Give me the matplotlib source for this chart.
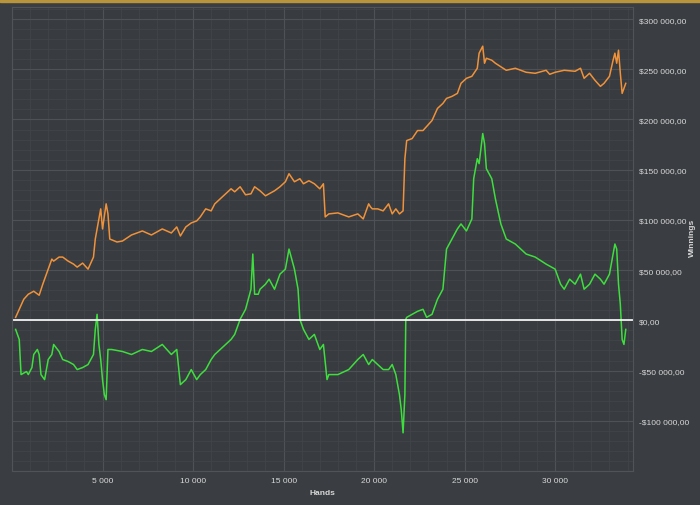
import matplotlib.pyplot as plt
from matplotlib.ticker import FuncFormatter, MultipleLocator

plt.rcParams['font.family'] = ['Liberation Sans', 'DejaVu Sans']

# hands (thousands) / winnings ($ thousands)
orange_x = [0.2,0.4,0.65,0.9,1.2,1.5,1.7,2.0,2.2,2.3,2.6,2.8,3.1,3.4,3.6,3.9,4.2,4.5,4.6,4.7,4.9,5.0,5.2,5.3,5.4,5.8,6.1,6.6,7.2,7.7,8.3,8.8,9.1,9.3,9.6,9.9,10.2,10.4,10.7,11.0,11.2,11.5,11.8,12.1,12.3,12.6,12.9,13.2,13.4,13.7,14.0,14.2,14.5,14.8,15.1,15.3,15.6,15.9,16.1,16.4,16.7,17.0,17.2,17.3,17.5,18.0,18.6,19.1,19.4,19.7,19.8,19.9,20.2,20.5,20.8,21.0,21.2,21.4,21.6,21.7,21.8,22.1,22.4,22.7,22.9,23.2,23.5,23.8,24.0,24.3,24.6,24.8,25.1,25.4,25.7,25.8,26.0,26.1,26.2,26.5,26.7,27.3,27.8,28.4,28.9,29.5,29.7,30.0,30.5,31.1,31.4,31.6,31.9,32.2,32.5,32.7,33.0,33.2,33.3,33.4,33.5,33.6,33.7,33.8,33.9]
orange_y = [3,11,21,26,29,25,36,51,61,59,63,63,59,56,53,57,51,63,81,91,111,91,116,106,81,78,79,85,89,85,91,87,93,84,93,97,99,103,111,109,116,121,126,131,128,133,125,126,133,129,124,126,129,133,138,146,138,141,136,139,136,131,136,103,106,107,103,106,101,116,113,111,111,109,116,106,111,106,109,161,179,181,189,189,193,199,211,216,221,223,226,236,241,243,251,266,273,256,261,259,256,249,251,247,246,249,245,247,249,248,251,241,246,239,233,236,243,259,266,256,269,246,226,231,236]

green_x = [0.2,0.4,0.5,0.8,0.9,1.1,1.2,1.4,1.5,1.6,1.8,2.0,2.2,2.3,2.6,2.8,3.1,3.4,3.6,3.9,4.2,4.5,4.6,4.7,4.8,4.9,5.0,5.1,5.2,5.3,5.5,6.1,6.6,7.2,7.7,8.3,8.8,9.1,9.3,9.6,9.9,10.2,10.4,10.7,11.0,11.2,11.5,11.8,12.1,12.3,12.6,12.9,13.2,13.3,13.4,13.6,13.7,14.0,14.2,14.5,14.8,15.1,15.3,15.6,15.8,15.9,16.1,16.4,16.7,17.0,17.2,17.4,17.5,18.0,18.6,19.1,19.4,19.7,19.9,20.2,20.5,20.8,21.0,21.2,21.3,21.4,21.5,21.6,21.7,21.75,21.8,22.1,22.4,22.7,22.9,23.2,23.5,23.8,24.0,24.3,24.6,24.8,25.1,25.4,25.5,25.7,25.8,26.0,26.1,26.2,26.5,26.7,27.0,27.3,27.8,28.4,28.9,29.5,30.0,30.3,30.5,30.8,31.1,31.4,31.6,31.9,32.2,32.5,32.7,33.0,33.2,33.3,33.4,33.5,33.6,33.7,33.8,33.9]
green_y = [-9,-19,-54,-51,-54,-47,-34,-29,-34,-54,-59,-39,-34,-24,-31,-39,-41,-44,-49,-47,-44,-34,-9,6,-24,-39,-59,-74,-79,-29,-29,-31,-34,-29,-31,-24,-34,-29,-64,-59,-49,-59,-54,-49,-39,-34,-29,-24,-19,-14,1,11,31,66,26,26,31,36,41,31,46,51,71,51,31,1,-9,-19,-14,-29,-24,-59,-54,-54,-49,-39,-34,-44,-39,-44,-49,-49,-44,-54,-64,-74,-89,-112,-74,1,3,6,9,11,3,6,21,31,71,81,91,96,89,101,141,161,156,186,176,151,141,121,96,81,76,66,63,56,51,36,31,41,36,46,31,36,46,41,36,46,66,76,71,36,16,-19,-24,-9]

bg = '#3a3d41'
fig = plt.figure(figsize=(7, 5.06), dpi=100, facecolor=bg)
ax = fig.add_axes([12/700, 34/506, 621/700, 464/506], facecolor='#383b3f')

ax.plot([x * 1000 for x in orange_x], [y * 1000 for y in orange_y], color='#f0923a', lw=1.1)
ax.plot([x * 1000 for x in green_x], [y * 1000 for y in green_y], color='#3ede3e', lw=1.1)
ax.axhline(0, color='white', lw=1.2)

ax.set_xlim(0, 34300)
ax.set_ylim(-150000, 312000)
ax.xaxis.set_major_locator(MultipleLocator(5000))
ax.xaxis.set_minor_locator(MultipleLocator(1000))
ax.yaxis.set_major_locator(MultipleLocator(50000))
ax.yaxis.set_minor_locator(MultipleLocator(10000))
ax.grid(which='major', color='#4e5156', lw=0.8)
ax.grid(which='minor', color='#43464b', lw=0.5)

def money(v, pos):
    if v < -120000:
        return ''
    s = f"{abs(int(v)):,}".replace(',', ' ')
    return ('-' if v < 0 else '') + '$' + s + ',00'

ax.xaxis.set_major_formatter(FuncFormatter(lambda v, p: '' if v <= 0 else f"{int(v):,}".replace(',', ' ')))
ax.yaxis.set_major_formatter(FuncFormatter(money))
ax.yaxis.tick_right()
ax.tick_params(colors='#d8d8d8', labelsize=6, length=0, which='both', pad=4)
ax.set_xlabel('Hands', color='#d8d8d8', fontsize=6, fontweight='bold')
fig.text(692/700, 0.53, 'Winnings', color='#d8d8d8', fontsize=6, fontweight='bold',
         rotation=90, ha='center', va='center')
for s in ax.spines.values():
    s.set_color('#505358')

fig.patches.append(plt.Rectangle((0, 0.995), 1, 0.005, transform=fig.transFigure, color='#b8953c'))
fig.savefig('out.png', dpi=100, facecolor=bg)
